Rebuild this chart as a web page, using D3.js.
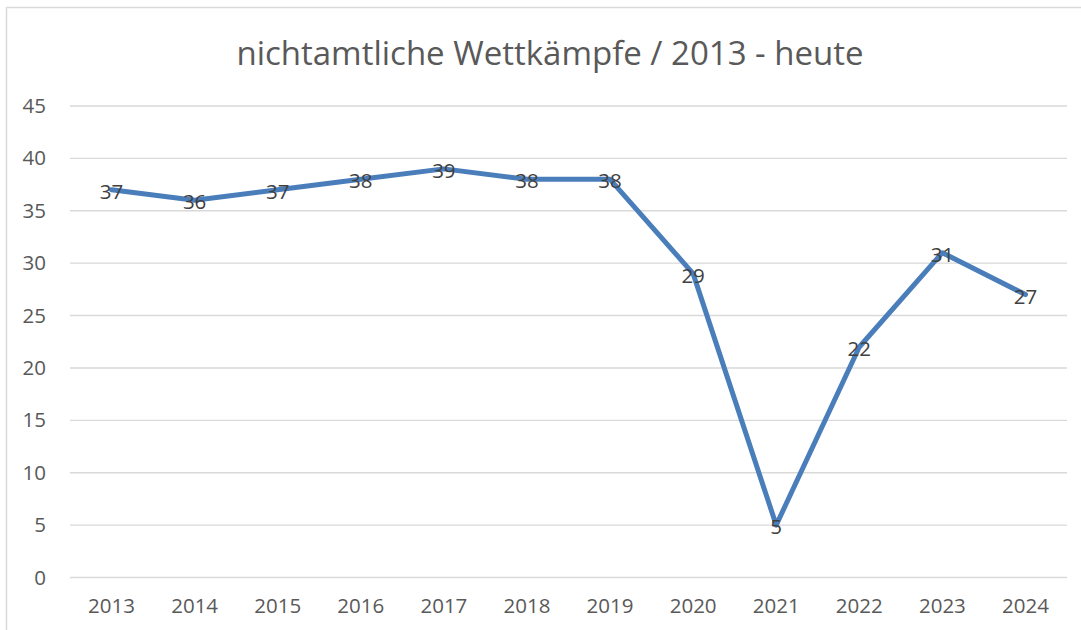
<!DOCTYPE html>
<html>
<head>
<meta charset="utf-8">
<script src="https://cdn.jsdelivr.net/npm/d3@7"></script>
<style>
  html, body { margin: 0; padding: 0; background: #fff; }
  svg { display: block; font-family: "Open Sans", sans-serif; }
</style>
</head>
<body>
<svg id="chart" width="1081" height="630"></svg>
<script>
// Data
const years = ["2013", "2014", "2015", "2016", "2017", "2018", "2019", "2020", "2021", "2022", "2023", "2024"];
const counts = [37, 36, 37, 38, 39, 38, 38, 29, 5, 22, 31, 27];
const yTicks = [0, 5, 10, 15, 20, 25, 30, 35, 40, 45];
const title = "nichtamtliche Wettkämpfe / 2013 - heute";

const W = 1081, H = 630;
const margin = { left: 70, right: 14, top: 106, bottom: 52.5 };
const svg = d3.select("#chart");

// Chart border
svg.append("rect")
  .attr("x", 6.5).attr("y", 7.5)
  .attr("width", W + 20).attr("height", H + 20)
  .attr("fill", "#fff")
  .attr("stroke", "#d9d9d9")
  .attr("stroke-width", 1.5);

const x = d3.scaleBand()
  .domain(years)
  .range([margin.left, W - margin.right]);

const y = d3.scaleLinear()
  .domain([0, 45])
  .range([H - margin.bottom, margin.top]);

// Title
svg.append("text")
  .attr("x", 550)
  .attr("y", 65)
  .attr("text-anchor", "middle")
  .attr("font-size", 33)
  .attr("fill", "#595959")
  .text(title);

// Gridlines
svg.append("g")
  .selectAll("line")
  .data(yTicks)
  .join("line")
  .attr("x1", margin.left)
  .attr("x2", W - margin.right)
  .attr("y1", (d) => y(d))
  .attr("y2", (d) => y(d))
  .attr("stroke", "#d9d9d9")
  .attr("stroke-width", 1.4);

// Y axis labels
const yAxis = svg.append("g")
  .attr("transform", `translate(${margin.left},0)`)
  .call(d3.axisLeft(y).tickValues(yTicks).tickSize(0).tickPadding(24));
yAxis.select(".domain").remove();
yAxis.selectAll("text")
  .attr("font-family", "Open Sans, sans-serif")
  .attr("font-size", 20.5)
  .attr("fill", "#595959");

// X axis labels
const xAxis = svg.append("g")
  .attr("transform", `translate(0,${H - margin.bottom})`)
  .call(d3.axisBottom(x).tickSize(0).tickPadding(21));
xAxis.select(".domain").remove();
xAxis.selectAll("text")
  .attr("font-family", "Open Sans, sans-serif")
  .attr("font-size", 20.5)
  .attr("fill", "#595959");

// Line
const cx = (d, i) => x(years[i]) + x.bandwidth() / 2;
const line = d3.line()
  .x((d, i) => cx(d, i))
  .y((d) => y(d));

svg.append("path")
  .datum(counts)
  .attr("d", line)
  .attr("fill", "none")
  .attr("stroke", "#4a7ebb")
  .attr("stroke-width", 5)
  .attr("stroke-linejoin", "round")
  .attr("stroke-linecap", "round");

// Data labels
svg.append("g")
  .selectAll("text")
  .data(counts)
  .join("text")
  .attr("x", (d, i) => cx(d, i))
  .attr("y", (d) => y(d) + 1)
  .attr("text-anchor", "middle")
  .attr("dominant-baseline", "central")
  .attr("font-size", 20.5)
  .attr("fill", "#404040")
  .text((d) => d);
</script>
</body>
</html>
